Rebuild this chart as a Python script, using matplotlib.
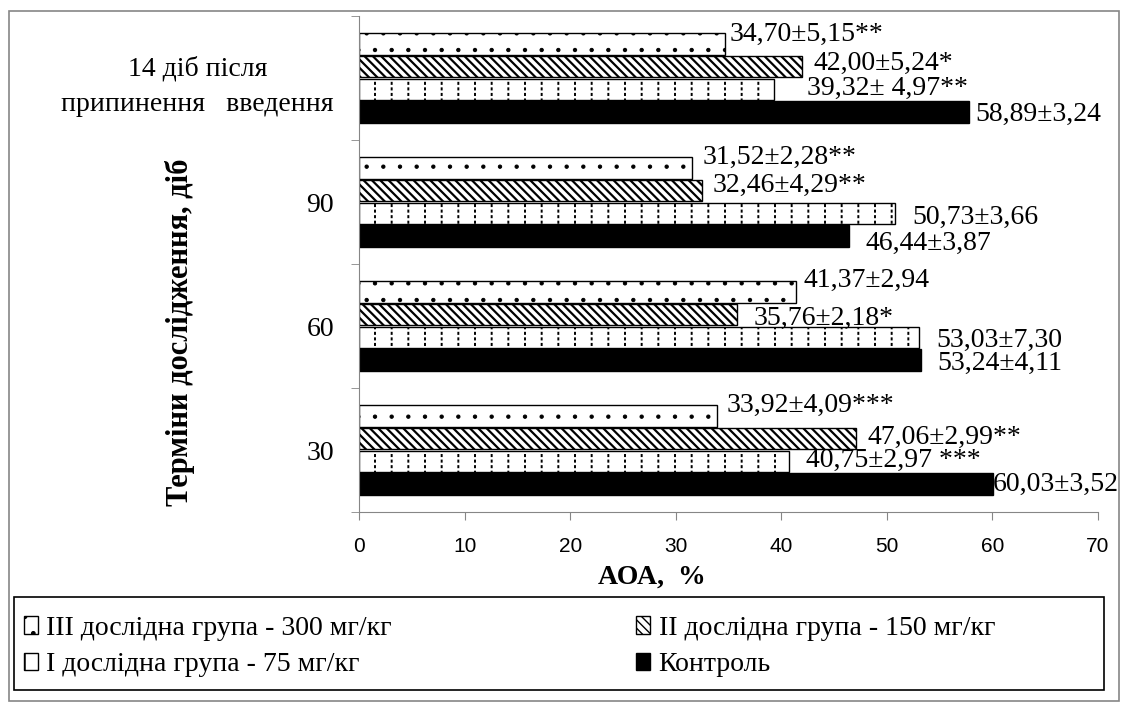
import matplotlib
matplotlib.use('Agg')
import matplotlib.pyplot as plt
import numpy as np
from matplotlib.patches import Rectangle

plt.rcParams['font.family'] = ['Liberation Serif', 'DejaVu Serif']

# data ---------------------------------------------------------------
periods = ['30', '60', '90', '14 діб після\nприпинення   введення']
series_names = ['III дослідна група - 300 мг/кг',
                'II дослідна група - 150 мг/кг',
                'I дослідна група - 75 мг/кг',
                'Контроль']
vals_III = [33.92, 41.37, 31.52, 34.70]
vals_II = [47.06, 35.76, 32.46, 42.00]
vals_I = [40.75, 53.03, 50.73, 39.32]
vals_control = [60.03, 53.24, 46.44, 57.75]

labels_III = ['33,92±4,09***', '41,37±2,94', '31,52±2,28**', '34,70±5,15**']
labels_II = ['47,06±2,99**', '35,76±2,18*', '32,46±4,29**', '42,00±5,24*']
labels_I = ['40,75±2,97 ***', '53,03±7,30', '50,73±3,66', '39,32± 4,97**']
labels_control = ['60,03±3,52', '53,24±4,11', '46,44±3,87', '58,89±3,24']

x_ticks = [0, 10, 20, 30, 40, 50, 60, 70]

# label offsets in pixels (dx right, dy down), per period
off_III = [(9, -10), (8, -11), (11, -10), (4, -9)]
off_II = [(12, -1), (17, 4), (11, -5), (11, -3)]
off_I = [(17, -1), (17, 3), (18, 4), (33, -1)]
off_control = [(0, 0), (16, 3), (16, 7), (7, 2)]


def hatched_barh(ax, ypos, vals, hatch, hlw, color='black', **kw):
    # hatch line width is taken per artist, so set it while creating the bars
    with plt.rc_context({'hatch.linewidth': hlw}):
        bars = ax.barh(ypos, vals, hatch=hatch, edgecolor=color, **kw)
    for p in bars:
        if hasattr(p, 'set_hatch_linewidth'):
            p.set_hatch_linewidth(hlw)
    return bars


# figure -------------------------------------------------------------
W, H = 1124, 704
fig = plt.figure(figsize=(W / 100, H / 100), dpi=100)
ax = fig.add_axes([359 / W, 1 - 512 / H, (1098 - 359) / W, (512 - 16) / H])

grey = '#868686'
fig.patches.append(Rectangle((9 / W, 3 / H), 1110 / W, 690 / H, transform=fig.transFigure,
                             fill=False, edgecolor=grey, linewidth=1.2))

y = np.arange(len(periods))
step = 0.185
bh = 0.176

y3 = y + 1.5 * step
y2 = y + 0.5 * step
y1 = y - 0.5 * step
y0 = y - 1.5 * step

# III: sparse small dots
h3 = hatched_barh(ax, y3, vals_III, '.', 0.7, height=bh, facecolor='white', linewidth=1.0)
# II: dense diagonal stripes
h2 = hatched_barh(ax, y2, vals_II, '\\\\\\\\', 1.6, height=bh, facecolor='white', linewidth=1.0)
# I: short vertical dashes
hatched_barh(ax, y1, vals_I, '|', 1.4, height=bh, facecolor='white', linewidth=0)
hatched_barh(ax, y1, vals_I, '---', 1.8, color='white', height=bh, fill=False, linewidth=0)
ax.barh(y1, vals_I, height=bh, fill=False, edgecolor='black', linewidth=1.0)
# control
h0 = ax.barh(y0, vals_control, height=bh, color='black', edgecolor='black', linewidth=1.0)

# legend proxy for the dashed series
with plt.rc_context({'hatch.linewidth': 1.4}):
    h1 = Rectangle((0, 0), 1, 1, facecolor='white', edgecolor='black', hatch='|', linewidth=1.0)

for ypos, vals, labs, offs in [(y3, vals_III, labels_III, off_III), (y2, vals_II, labels_II, off_II),
                               (y1, vals_I, labels_I, off_I), (y0, vals_control, labels_control, off_control)]:
    for yi, v, lab, (dx, dy) in zip(ypos, vals, labs, offs):
        ax.annotate(lab, (v, yi), xytext=(dx * 0.72, -dy * 0.72), textcoords='offset points',
                    ha='left', va='center', fontsize=20)

ax.set_xlim(0, 70)
ax.set_ylim(-0.5, len(periods) - 0.5)
ax.set_xticks(x_ticks)
ax.set_xticklabels([str(t) for t in x_ticks], family=['Liberation Sans Narrow', 'Liberation Sans'],
                   fontsize=15)
ax.set_yticks(y)
ax.set_yticklabels(periods, fontsize=20, linespacing=1.55)
for t in ax.get_yticklabels():
    t.set_multialignment('center')
ax.set_yticks(np.arange(-0.5, len(periods)), minor=True)
ax.tick_params(axis='y', which='major', length=0, pad=18)
ax.tick_params(axis='y', which='minor', length=6, color=grey, direction='out')
ax.tick_params(axis='x', length=6, color=grey, direction='out', pad=12)

for s in ['top', 'right']:
    ax.spines[s].set_visible(False)
ax.spines['left'].set_color(grey)
ax.spines['bottom'].set_color(grey)

ax.set_xlabel('АОА,  %', fontsize=20, fontweight='bold', va='center')
ax.xaxis.set_label_coords((652 - 359) / 739, (512 - 577) / 496)
ax.set_ylabel('Терміни дослідження, діб', fontsize=22, fontweight='bold', va='center')
ax.yaxis.set_label_coords((180 - 359) / 739, (512 - 332) / 496)

# legend box
fig.patches.append(Rectangle((14 / W, 1 - 690 / H), 1090 / W, 93 / H, transform=fig.transFigure,
                             fill=False, edgecolor='black', linewidth=1.2))
handles = [h3, h1, h2, h0]
names = [series_names[0], series_names[2], series_names[1], series_names[3]]
fig.legend(handles, names, ncol=2,
           loc='upper left', bbox_to_anchor=(24 / W, 1 - 616 / H), frameon=False,
           fontsize=20, handlelength=0.5, handleheight=0.6, handletextpad=0.3,
           columnspacing=8.8, labelspacing=0.4, borderpad=0, borderaxespad=0)

fig.savefig('out.png', dpi=100)
